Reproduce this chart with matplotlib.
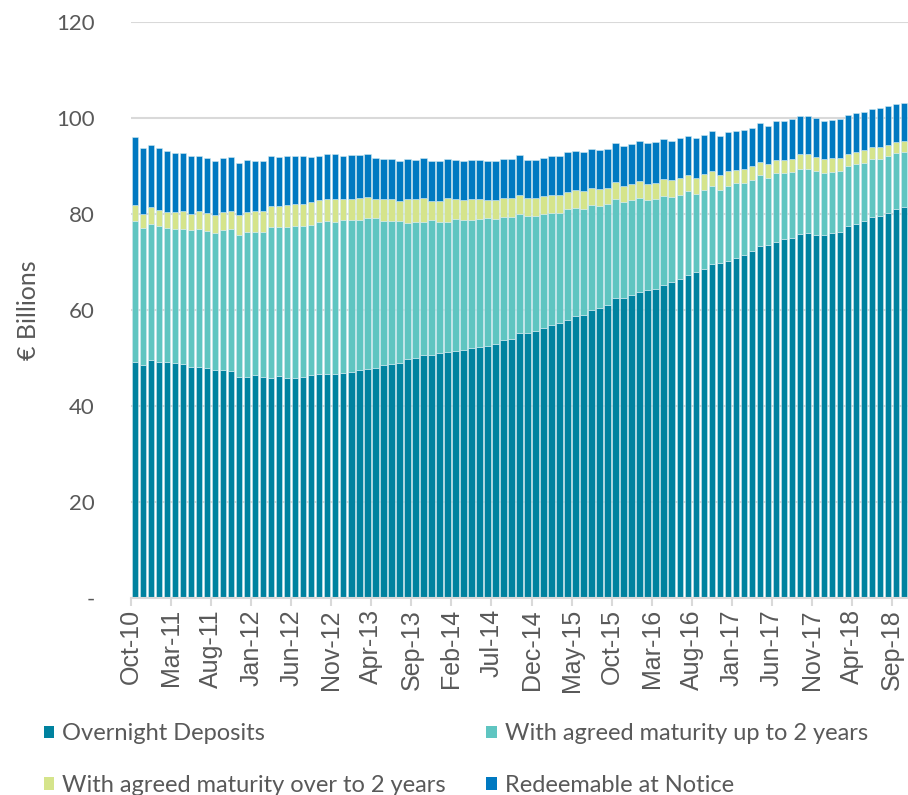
import numpy as np
import pandas as pd
import matplotlib
matplotlib.use("Agg")
import matplotlib.pyplot as plt
from matplotlib.patches import Patch

plt.rcParams['font.family'] = ['Lato', 'DejaVu Sans']

# monthly categories, Oct-10 .. Oct-18
months = pd.date_range("2010-10-01", "2018-10-01", freq="MS").strftime("%b-%y").tolist()

overnight = [49.1, 48.6, 49.6, 49.2, 49.2, 49.0, 48.8, 48.2, 48.2, 47.9,
             47.4, 47.4, 47.3, 46.1, 46.1, 46.5, 46.0, 45.8, 46.2, 45.9,
             45.8, 46.1, 46.4, 46.6, 46.7, 46.6, 46.8, 47.0, 47.5, 47.8,
             48.0, 48.6, 48.8, 49.0, 49.7, 50.0, 50.6, 50.7, 51.0, 51.3,
             51.5, 51.7, 52.1, 52.3, 52.6, 53.0, 53.8, 54.0, 55.3, 55.2,
             55.6, 56.3, 56.9, 57.3, 58.0, 58.8, 59.0, 60.1, 60.4, 61.0,
             62.5, 62.6, 63.2, 63.7, 64.1, 64.4, 65.2, 65.9, 66.5, 67.3,
             67.9, 68.5, 69.5, 69.8, 70.3, 70.8, 71.4, 72.3, 73.3, 73.5,
             74.2, 74.8, 75.0, 75.8, 76.0, 75.6, 75.6, 76.1, 76.3, 77.5,
             77.9, 78.5, 79.4, 79.6, 80.2, 81.0, 81.5]

upto_2y = [29.4, 28.4, 28.3, 28.3, 27.8, 27.8, 28.1, 28.4, 28.7, 28.6,
           28.6, 29.3, 29.5, 29.5, 30.2, 29.8, 30.3, 31.4, 31.0, 31.4,
           31.8, 31.3, 31.4, 31.7, 31.8, 31.8, 31.9, 31.8, 31.3, 31.4,
           31.2, 29.9, 29.7, 29.5, 28.4, 28.3, 27.7, 28.1, 27.3, 27.0,
           27.5, 27.1, 26.7, 26.7, 26.5, 26.0, 25.6, 25.3, 24.8, 24.4,
           24.0, 23.6, 23.3, 22.9, 23.0, 22.5, 22.1, 21.8, 21.3, 21.0,
           20.7, 20.0, 19.7, 19.7, 18.9, 18.8, 18.6, 17.7, 17.5, 17.5,
           16.3, 16.6, 16.4, 15.3, 15.5, 15.6, 15.1, 14.7, 14.8, 14.1,
           14.3, 13.8, 13.8, 13.6, 13.4, 13.3, 12.9, 12.6, 12.7, 12.5,
           12.5, 12.2, 12.1, 11.9, 11.8, 11.8, 11.5]

over_2y = [3.4, 3.1, 3.5, 3.4, 3.4, 3.6, 3.7, 3.5, 3.7, 3.7,
           3.7, 3.7, 3.8, 4.1, 4.1, 4.3, 4.3, 4.4, 4.4, 4.5,
           4.5, 4.6, 4.6, 4.6, 4.6, 4.7, 4.5, 4.4, 4.5, 4.4,
           3.9, 4.6, 4.6, 4.2, 5.0, 4.8, 5.0, 4.0, 4.5, 5.1,
           4.1, 4.2, 4.3, 4.1, 3.9, 4.0, 4.0, 4.0, 3.9, 3.8,
           3.8, 3.8, 3.8, 3.8, 3.6, 3.6, 3.6, 3.5, 3.5, 3.5,
           3.4, 3.3, 3.4, 3.4, 3.3, 3.3, 3.4, 3.4, 3.5, 3.3,
           3.4, 3.3, 3.1, 3.1, 3.2, 2.8, 2.9, 2.9, 2.8, 2.8,
           2.8, 2.7, 2.7, 3.0, 3.0, 3.0, 3.0, 2.9, 2.7, 2.6,
           2.6, 2.6, 2.5, 2.5, 2.4, 2.2, 2.2]

redeemable = [14.2, 13.7, 13.0, 12.9, 12.7, 12.3, 12.1, 11.9, 11.4, 11.5,
              11.4, 11.3, 11.2, 10.9, 10.8, 10.5, 10.4, 10.4, 10.3, 10.2,
              10.0, 10.1, 9.5, 9.2, 9.4, 9.3, 8.9, 9.1, 9.0, 8.8,
              8.6, 8.4, 8.3, 8.3, 8.3, 8.2, 8.3, 8.2, 8.2, 8.1,
              8.2, 8.1, 8.2, 8.2, 8.1, 8.1, 8.1, 8.1, 8.2, 7.9,
              7.9, 8.0, 8.1, 8.1, 8.3, 8.2, 8.2, 8.1, 8.2, 8.1,
              8.2, 8.3, 8.3, 8.4, 8.4, 8.4, 8.4, 8.3, 8.3, 8.2,
              8.2, 8.1, 8.2, 8.0, 8.0, 8.0, 8.0, 8.0, 8.1, 8.0,
              8.1, 8.1, 8.2, 8.1, 8.1, 8.0, 7.9, 7.9, 8.1, 8.1,
              8.0, 8.0, 7.9, 8.0, 8.0, 8.0, 8.0]

series_names = ["Overnight Deposits", "With agreed maturity up to 2 years",
                "With agreed maturity over to 2 years", "Redeemable at Notice"]
colors = ["#00829f", "#5fc5c1", "#d5e48b", "#0079c1"]

tick_labels = ["Oct-10", "Mar-11", "Aug-11", "Jan-12", "Jun-12", "Nov-12", "Apr-13",
               "Sep-13", "Feb-14", "Jul-14", "Dec-14", "May-15", "Oct-15", "Mar-16",
               "Aug-16", "Jan-17", "Jun-17", "Nov-17", "Apr-18", "Sep-18"]
yticks = [0, 20, 40, 60, 80, 100, 120]

fig = plt.figure(figsize=(9.08, 7.95), dpi=100)
ax = fig.add_axes([0.1443, 0.2478, 0.8557, 0.7245])

x = np.arange(len(months))
bottom = np.zeros(len(months))
for vals, name, col in zip([overnight, upto_2y, over_2y, redeemable], series_names, colors):
    vals = np.array(vals)
    ax.bar(x, vals, width=0.8, bottom=bottom, color=col, edgecolor="#cfe9f0",
           linewidth=0.4, label=name, zorder=2)
    bottom += vals

ax.set_xlim(-0.5, len(months) - 0.5)
ax.set_ylim(0, 120)

pos = [months.index(t) - 0.5 for t in tick_labels]
ax.set_xticks(pos)
ax.set_xticklabels(tick_labels, rotation=90, fontsize=18, color="#595959",
                   family=["Liberation Sans", "DejaVu Sans"])
ax.tick_params(axis="x", length=6, width=1.5, color="#d9d9d9", pad=2)

ax.set_yticks(yticks)
ax.set_yticklabels(["-" if v == 0 else str(v) for v in yticks], fontsize=16, color="#595959")
ax.tick_params(axis="y", length=0, pad=26)
ax.yaxis.grid(True, color="#d9d9d9", linewidth=1.5, zorder=0)
ax.set_axisbelow(True)

for s in ["top", "right", "left"]:
    ax.spines[s].set_visible(False)
ax.spines["bottom"].set_color("#d9d9d9")
ax.spines["bottom"].set_linewidth(1.5)

ax.set_ylabel("€ Billions", fontsize=18, color="#595959", labelpad=12)

order = [0, 2, 1, 3]
handles = [Patch(facecolor=colors[i], edgecolor="none") for i in order]
labels = [series_names[i] for i in order]
fig.legend(handles, labels, ncol=2, loc="upper left", bbox_to_anchor=(0.048, 0.09),
           frameon=False, fontsize=17, handlelength=0.45, handleheight=0.45,
           handletextpad=0.35, columnspacing=1.7, labelspacing=1.3,
           labelcolor="#595959", borderpad=0, borderaxespad=0)

fig.savefig("out.png", dpi=100)
